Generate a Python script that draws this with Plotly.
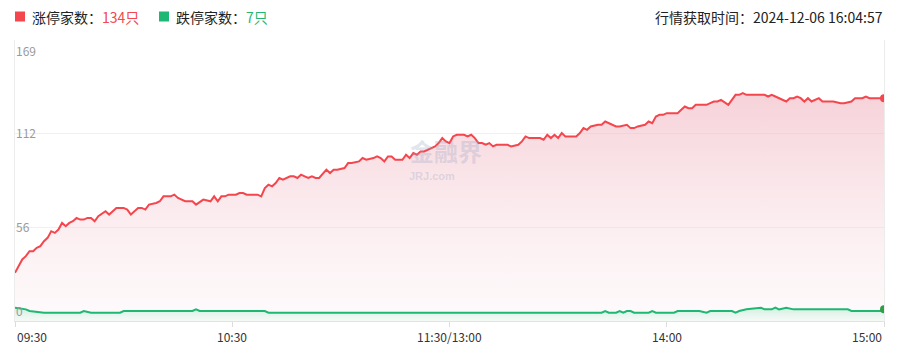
import plotly.graph_objects as go

# ---- data (minute index from 09:30, trading minutes; 120 = 11:30/13:00) ----
up_minutes = [0, 1, 2, 3, 4, 5, 6, 7, 8, 9, 10, 11, 12, 13, 14, 15, 16, 17, 18, 19, 20, 21, 22, 23, 25, 26, 28, 30, 31, 32,
              34, 35, 36, 37, 39, 40, 41, 43, 44, 45, 47, 48, 49, 50, 52, 54, 55, 56, 57, 58, 59, 61, 62, 63, 64, 67, 68, 69,
              70, 71, 72, 73, 74, 76, 77, 78, 79, 80, 81, 82, 83, 84, 86, 87, 88, 89, 91, 92, 93, 95, 96, 97, 99, 100, 101,
              102, 103, 104, 105, 107, 108, 109, 110, 111, 112, 113, 114, 116, 117, 118, 119, 120, 121, 122, 124, 125, 126,
              127, 128, 129, 130, 131, 132, 133, 136, 137, 139, 140, 141, 142, 143, 145, 146, 147, 148, 149, 150, 151, 152,
              155, 156, 157, 158, 159, 161, 162, 163, 164, 165, 166, 167, 169, 170, 171, 172, 174, 175, 176, 177, 178, 179,
              180, 182, 183, 184, 185, 186, 187, 188, 189, 191, 192, 193, 194, 195, 197, 198, 199, 200, 201, 202, 207, 208,
              209, 210, 211, 213, 214, 215, 216, 217, 218, 219, 220, 221, 222, 223, 226, 228, 229, 231, 232, 234, 235, 236,
              240]
up_counts = [29, 33, 37, 39, 42, 42, 44, 45, 48, 50, 54, 53, 55, 59, 57, 59, 60, 62, 61, 61, 62, 62, 60, 63, 66, 64, 68, 68, 67, 64,
             68, 68, 67, 70, 71, 72, 75, 75, 76, 74, 72, 72, 72, 70, 73, 72, 75, 72, 75, 75, 76, 76, 77, 77, 76, 76, 75, 80,
             82, 81, 83, 86, 85, 87, 87, 86, 88, 87, 86, 87, 86, 86, 91, 89, 91, 91, 92, 95, 95, 96, 98, 97, 98, 99, 98,
             96, 99, 99, 97, 97, 100, 98, 101, 100, 102, 102, 103, 105, 107, 110, 108, 107, 111, 112, 112, 111, 112,
             110, 107, 107, 106, 107, 105, 106, 106, 105, 106, 108, 111, 110, 110, 110, 109, 112, 110, 112, 110, 113, 111,
             111, 113, 116, 115, 117, 118, 118, 120, 119, 118, 117, 117, 118, 116, 116, 117, 118, 120, 119, 123, 124, 124,
             125, 125, 125, 127, 129, 128, 128, 130, 130, 130, 131, 132, 132, 133, 130, 133, 136, 136, 137, 136, 136, 135,
             136, 135, 134, 132, 134, 134, 135, 134, 132, 134, 132, 133, 134, 132, 132, 131, 131, 132, 134, 134, 135, 134,
             134]

down_minutes = [0, 3, 4, 8, 18, 19, 21, 29, 30, 49, 50, 51, 69, 70, 162, 163, 164, 166, 167, 168, 169, 170, 171, 175, 176,
                177, 182, 183, 189, 191, 192, 198, 199, 200, 202, 206, 207, 209, 210, 211, 213, 215, 230, 231, 239, 240]
down_counts = [8, 7, 6, 5, 5, 6, 5, 5, 6, 6, 7, 6, 6, 5, 5, 6, 5, 5, 6, 5, 6, 6, 5, 5, 6,
               5, 5, 6, 6, 5, 6, 6, 5, 6, 7, 8, 7, 7, 8, 7, 8, 7, 7, 6, 6, 7]

x_tick_vals = [0, 60, 120, 180, 240]
x_tick_text = ["09:30", "10:30", "11:30/13:00", "14:00", "15:00"]
y_max = 169
y_tick_vals = [0, 169 / 3, 169 * 2 / 3, 169]
y_tick_text = ["0", "56", "112", "169"]

up_total = 134
down_total = 7
fetch_time = "2024-12-06 16:04:57"

RED = "#f4464d"
GREEN = "#1fb774"
FONT = "Noto Sans CJK SC"

fig = go.Figure()

fig.add_trace(go.Scatter(
    x=up_minutes, y=up_counts, mode="lines",
    line=dict(color=RED, width=2),
    fill="tozeroy",
    fillgradient=dict(type="vertical", start=0, stop=140,
                      colorscale=[[0, "rgba(250,235,238,0.25)"], [1, "rgba(238,170,183,0.55)"]]),
    hoverinfo="skip", showlegend=False,
))
fig.add_trace(go.Scatter(
    x=down_minutes, y=down_counts, mode="lines",
    line=dict(color=GREEN, width=2),
    fill="tozeroy",
    fillgradient=dict(type="vertical", start=0, stop=8,
                      colorscale=[[0, "rgba(240,250,245,0.6)"], [1, "rgba(205,238,220,0.9)"]]),
    hoverinfo="skip", showlegend=False,
))
# end-point markers
fig.add_trace(go.Scatter(x=[up_minutes[-1]], y=[up_counts[-1]], mode="markers",
                         marker=dict(color=RED, size=8), hoverinfo="skip", showlegend=False))
fig.add_trace(go.Scatter(x=[down_minutes[-1]], y=[down_counts[-1]], mode="markers",
                         marker=dict(color="#2f9e46", size=8), hoverinfo="skip", showlegend=False))

W, H = 902, 353
ML, MR, MT, MB = 15, 18, 40, 32
pw = W - ML - MR
ph = H - MT - MB


def px_x(p):
    return (p - ML) / pw


def px_y(p):
    return (H - MB - p) / ph


annotations = []
# y tick labels inside the plot
for v, t in zip(y_tick_vals, y_tick_text):
    if v == y_tick_vals[-1]:
        anchor, shift = "top", 0
    elif v == y_tick_vals[0]:
        anchor, shift = "bottom", 0
    else:
        anchor, shift = "middle", 1
    annotations.append(dict(x=0, xref="paper", y=v, yref="y", text=t, showarrow=False,
                            xanchor="left", yanchor=anchor, yshift=shift, xshift=-1,
                            font=dict(family=FONT, size=12, color="#9a9a9a")))
# x tick labels
for i, (v, t) in enumerate(zip(x_tick_vals, x_tick_text)):
    xa = "left" if i == 0 else ("right" if i == len(x_tick_vals) - 1 else "center")
    annotations.append(dict(x=v, xref="x", y=0, yref="paper", text=t, showarrow=False,
                            xanchor=xa, yanchor="top", yshift=-5,
                            font=dict(family=FONT, size=12, color="#333333")))
# header legend
annotations.append(dict(x=px_x(30), xref="paper", y=px_y(16.5), yref="paper",
                        text=f"涨停家数：<span style='color:{RED}'>{up_total}只</span>",
                        showarrow=False, xanchor="left", yanchor="middle",
                        font=dict(family=FONT, size=14, color="#222222")))
annotations.append(dict(x=px_x(174), xref="paper", y=px_y(16.5), yref="paper",
                        text=f"跌停家数：<span style='color:{GREEN}'>{down_total}只</span>",
                        showarrow=False, xanchor="left", yanchor="middle",
                        font=dict(family=FONT, size=14, color="#222222")))
annotations.append(dict(x=px_x(885), xref="paper", y=px_y(16.5), yref="paper",
                        text=f"行情获取时间：{fetch_time}",
                        showarrow=False, xanchor="right", yanchor="middle",
                        font=dict(family=FONT, size=14, color="#222222")))
# watermark
annotations.append(dict(x=px_x(446), xref="paper", y=px_y(150), yref="paper", text="<b>金融界</b>",
                        showarrow=False, xanchor="center", yanchor="middle", borderpad=0,
                        font=dict(family=FONT, size=24, color="rgba(150,163,195,0.30)")))
annotations.append(dict(x=px_x(432), xref="paper", y=px_y(176), yref="paper", text="<b>JRJ.com</b>",
                        showarrow=False, xanchor="center", yanchor="middle", borderpad=0,
                        font=dict(family="Liberation Sans", size=11, color="rgba(150,163,195,0.30)")))

shapes = [
    dict(type="rect", xref="paper", yref="paper", x0=px_x(15), x1=px_x(25), y0=px_y(11.5), y1=px_y(21.5),
         fillcolor=RED, line=dict(width=0)),
    dict(type="rect", xref="paper", yref="paper", x0=px_x(159), x1=px_x(169), y0=px_y(11.5), y1=px_y(21.5),
         fillcolor=GREEN, line=dict(width=0)),
]

fig.update_layout(
    width=W, height=H,
    margin=dict(l=ML, r=MR, t=MT, b=MB, pad=0),
    paper_bgcolor="white", plot_bgcolor="white",
    showlegend=False,
    annotations=annotations,
    shapes=shapes,
    xaxis=dict(range=[0, 240], tickvals=x_tick_vals, ticktext=x_tick_text, showticklabels=False,
               ticks="outside", ticklen=5, tickcolor="#dcdcdc", showgrid=False, zeroline=False,
               showline=True, linecolor="#e3e3e3", linewidth=1, fixedrange=True),
    yaxis=dict(range=[0, y_max], tickvals=y_tick_vals, showticklabels=False, ticks="",
               showgrid=True, gridcolor="#f0f0f0", gridwidth=1, zeroline=False,
               showline=True, linecolor="#ececec", linewidth=1, mirror=True, fixedrange=True),
)

fig.write_html("out.html")
